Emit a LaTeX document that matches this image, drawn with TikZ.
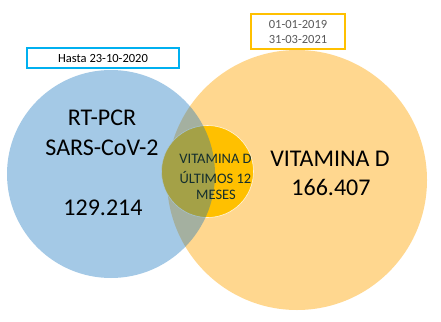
\documentclass[tikz,border=0pt]{standalone}
\usepackage{fontspec}
\setmainfont{Carlito}
\definecolor{lblue}{HTML}{1071BD}
\definecolor{lorange}{HTML}{FFD78F}
\definecolor{gold}{HTML}{FFC000}
\definecolor{cyanb}{HTML}{00B0F0}
\definecolor{greytxt}{HTML}{595959}
\definecolor{innertxt}{HTML}{142E2E}
\begin{document}
\begin{tikzpicture}[x=1pt,y=-1pt,
  bigtxt/.style={font=\fontsize{24}{29}\selectfont, text=black, align=center},
  innerlbl/.style={font=\fontsize{14.5}{18}\selectfont, text=innertxt, align=center},
  datebox/.style={draw, line width=1.4pt, fill=white, inner sep=0pt, font=\fontsize{12.5}{15}\selectfont, align=center}]
\useasboundingbox (0,0) rectangle (441,321);
% circles
\fill[lorange] (297,180) circle[radius=130];
\fill[gold] (207.5,171.5) circle[radius=46];
\draw[white, line width=0.6pt, opacity=0.8] (207.5,171.5) circle[radius=46];
\fill[lblue, fill opacity=0.38] (111,174) circle[radius=104];
% labels
\node[bigtxt] (rt) at (102,118) {RT-PCR};
\node[bigtxt] (sars) at (102,148) {SARS-CoV-2};
\node[bigtxt] (n1) at (103,208) {129.214};
\node[bigtxt] (vd) at (330,159) {VITAMINA D};
\node[bigtxt] (n2) at (331,187) {166.407};
\node[innerlbl] (v1) at (215.5,159) {VITAMINA D};
\node[innerlbl] (v2) at (215.5,177) {ÚLTIMOS 12};
\node[innerlbl] (v3) at (216,195) {MESES};
% boxes
\node[datebox, draw=cyanb, text=black, minimum width=152pt, minimum height=20pt] (hasta) at (103,58) {Hasta 23-10-2020};
\node[datebox, draw=gold, text=greytxt, minimum width=94pt, minimum height=35pt] (dates) at (298,31.5) {01-01-2019\\31-03-2021};
\end{tikzpicture}
\end{document}
